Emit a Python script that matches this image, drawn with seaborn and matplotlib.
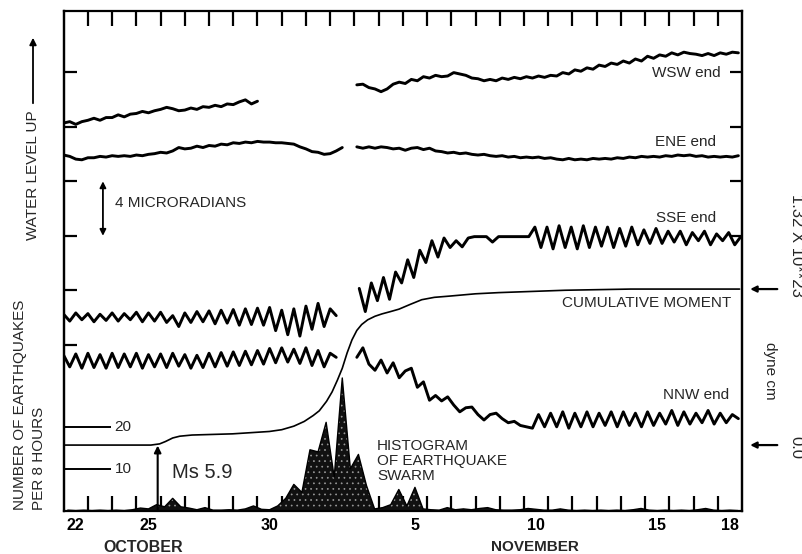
import numpy as np
import matplotlib
matplotlib.use('Agg')
import matplotlib.pyplot as plt
import seaborn as sns

# --- Дані ---
# час у добах від 00 год 22 жовтня, нахил у мікрорадіанах відносно початку запису
STEP = 0.25

WSW_A_START = 0.0
WSW_A = [0.0, 0.1, -0.1, 0.1, 0.2, 0.35, 0.2, 0.4, 0.4, 0.6, 0.45, 0.65, 0.7, 0.85,
         0.75, 0.9, 1.0, 1.15, 1.05, 0.9, 0.95, 1.1, 1.0, 1.2, 1.15, 1.3, 1.2, 1.4,
         1.35, 1.55, 1.7, 1.4, 1.6]
WSW_B_START = 12.1
WSW_B = [2.8, 2.85, 2.6, 2.5, 2.3, 2.5, 2.85, 3.0, 2.9, 3.2, 3.1, 3.4, 3.3, 3.5,
         3.4, 3.45, 3.7, 3.6, 3.5, 3.3, 3.25, 3.1, 3.2, 3.1, 3.3, 3.2, 3.35, 3.25,
         3.4, 3.3, 3.45, 3.35, 3.5, 3.45, 3.7, 3.6, 3.9, 3.8, 4.05, 3.95, 4.25, 4.15,
         4.4, 4.3, 4.55, 4.4, 4.7, 4.55, 4.9, 4.75, 5.0, 4.9, 5.15, 5.0, 5.2, 5.1,
         5.05, 4.95, 5.1, 4.95, 5.15, 5.05, 5.2, 5.15]

ENE_A_START = 0.0
ENE_A = [0.0, -0.1, -0.3, -0.35, -0.2, -0.2, -0.1, -0.15, -0.05, -0.1, -0.05, -0.1,
         0.0, -0.05, 0.05, 0.1, 0.2, 0.15, 0.3, 0.55, 0.45, 0.5, 0.65, 0.55, 0.7,
         0.65, 0.8, 0.75, 0.9, 0.85, 0.95, 0.9, 1.0, 0.95, 0.95, 0.9, 0.9, 0.85, 0.8,
         0.6, 0.45, 0.25, 0.2, 0.05, 0.1, 0.3, 0.55]
ENE_B_START = 12.1
ENE_B = [0.6, 0.5, 0.6, 0.5, 0.6, 0.55, 0.45, 0.5, 0.35, 0.5, 0.55, 0.4, 0.5, 0.3,
         0.25, 0.15, 0.2, 0.1, 0.15, 0.05, 0.0, 0.05, -0.05, -0.1, -0.05, -0.15, -0.1,
         -0.2, -0.15, -0.2, -0.15, -0.25, -0.2, -0.3, -0.35, -0.25, -0.35, -0.3, -0.35,
         -0.25, -0.3, -0.25, -0.3, -0.2, -0.25, -0.15, -0.2, -0.1, -0.15, -0.1, -0.15,
         -0.05, -0.1, 0.0, -0.05, 0.0, -0.1, -0.05, -0.15, -0.1, -0.15, -0.1, -0.15,
         -0.05]

SSE_A_START = 0.0
SSE_A = [0.2, -0.3, 0.3, -0.2, 0.25, -0.35, 0.2, -0.25, 0.3, -0.3, 0.25, -0.2, 0.35,
         -0.35, 0.3, -0.3, 0.35, -0.4, 0.1, -0.7, 0.3, -0.4, 0.4, -0.35, 0.45, -0.5,
         0.5, -0.45, 0.55, -0.6, 0.6, -0.55, 0.65, -0.6, 0.7, -1.0, 0.5, -1.3, 0.6,
         -1.4, 0.8, -0.9, 1.0, -0.7, 0.6, 0.1]
SSE_B_START = 12.2
SSE_B = [2.1, 0.4, 2.5, 1.2, 2.9, 1.3, 3.3, 2.5, 4.2, 2.9, 4.9, 4.0, 5.6, 4.4, 5.8,
         5.1, 5.6, 5.15, 5.8, 5.9, 5.9, 5.9, 5.5, 5.9, 5.9, 5.9, 5.9, 5.9, 5.9, 6.6,
         5.1, 6.6, 5.0, 6.7, 5.1, 6.6, 5.0, 6.7, 5.1, 6.6, 5.2, 6.6, 5.1, 6.5, 5.2,
         6.6, 5.3, 6.4, 5.4, 6.5, 5.4, 6.3, 5.5, 6.3, 5.3, 6.2, 5.6, 6.3, 5.3, 6.1,
         5.6, 6.2, 5.3, 5.9]

NNW_A_START = 0.0
NNW_A = [0.35, -0.5, 0.45, -0.6, 0.5, -0.55, 0.4, -0.6, 0.5, -0.55, 0.45, -0.5, 0.5,
         -0.6, 0.4, -0.5, 0.45, -0.55, 0.5, -0.45, 0.4, -0.6, 0.35, -0.55, 0.5, -0.5,
         0.55, -0.45, 0.6, -0.4, 0.65, -0.35, 0.7, -0.3, 0.85, -0.2, 0.9, -0.15, 0.8,
         -0.25, 0.9, -0.4, 0.7, -0.5, 0.5, 0.2]
NNW_B_START = 12.1
NNW_B = [0.2, 0.9, -0.3, -0.75, 0.0, -0.95, -0.2, -1.3, -0.8, -0.6, -2.0, -1.6, -2.95,
         -2.6, -3.0, -2.7, -3.3, -3.8, -3.5, -3.45, -4.0, -4.4, -4.0, -3.9, -4.3, -4.6,
         -4.5, -4.8, -4.9, -5.0, -4.0, -4.9, -3.9, -4.9, -3.8, -5.0, -3.9, -4.9, -3.8,
         -4.9, -3.9, -4.8, -3.8, -4.9, -3.8, -4.8, -3.9, -4.9, -3.8, -4.8, -3.9, -4.7,
         -3.7, -4.8, -3.8, -4.7, -3.9, -4.6, -3.7, -4.7, -3.9, -4.6, -4.0, -4.3]

# кількість землетрусів за 8 годин (3 інтервали на добу)
QUAKE_COUNTS = [0.2, 0.1, 0.2, 0.1, 0.2, 0.1, 0.2, 0.1, 0.3, 0.7, 0.5, 1.5, 1.0, 3.0,
                1.0, 0.7, 0.3, 0.8, 0.2, 0.2, 0.3, 0.2, 0.5, 1.2, 0.4, 0.3, 1.2, 3.0,
                6.3, 4.4, 14.5, 14.0, 21.0, 8.0, 31.5, 10.0, 13.4, 6.0, 0.5, 0.8, 1.5,
                5.1, 1.2, 5.6, 0.5, 0.3, 0.2, 0.8, 0.3, 0.5, 0.3, 0.6, 0.8, 0.3, 0.2,
                0.2, 0.3, 0.6, 0.4, 0.2, 0.2, 0.5, 0.2, 0.1, 0.2, 0.1, 0.2, 0.1, 0.2,
                0.1, 0.3, 0.6, 0.2, 0.1, 0.2, 0.1, 0.2, 0.1, 0.3, 0.6, 0.2, 0.1, 0.2, 0.1]
COUNT_TICKS = [10, 20]
MAIN_SHOCK_DAY = 3.88
MAIN_SHOCK_LABEL = "Ms 5.9"

# кумулятивний момент, 10**23 dyne cm
MOMENT_DAYS = [0.0, 3.6, 3.96, 4.2, 4.5, 4.79, 5.3, 6.97, 8.49, 9.0, 9.5, 9.93, 10.3,
               10.55, 10.85, 11.08, 11.3, 11.5, 11.7, 11.9, 12.1, 12.3, 12.55, 12.85,
               13.14, 13.5, 13.84, 14.3, 14.78, 15.3, 15.9, 17.0, 17.96, 20.7, 23.4, 27.9]
MOMENT_VALUES = [0.0, 0.0, 0.01, 0.03, 0.06, 0.075, 0.085, 0.095, 0.115, 0.13, 0.16,
                 0.2, 0.25, 0.29, 0.37, 0.45, 0.55, 0.65, 0.78, 0.89, 0.97, 1.02, 1.06,
                 1.09, 1.11, 1.13, 1.15, 1.19, 1.23, 1.25, 1.26, 1.28, 1.29, 1.31, 1.32,
                 1.32]
MOMENT_MAX = 1.32

DAY_LABELS = ["22", "25", "30", "5", "10", "15", "18"]
DAY_INDEX = [0, 3, 8, 14, 19, 24, 27]

# --- Розкладка (рівні записів на осі, мкрад) ---
OFFSETS = {"WSW": 28.48, "ENE": 26.13, "SSE": 14.24, "NNW": 11.08}
COUNT_SCALE = 0.31
MOMENT_BASE, MOMENT_SCALE = 4.84, 8.675
TILT_TICKS = 12.2 + 4 * np.arange(6)

sns.set_style('ticks')
plt.rcParams['font.family'] = ['Liberation Sans', 'DejaVu Sans']
plt.rcParams['hatch.linewidth'] = 0.5

fig = plt.figure(figsize=(8.02, 5.54), dpi=100)
ax = fig.add_axes([0.0794, 0.0776, 0.8458, 0.9025])


def draw_trace(start, values, offset):
    t = start + STEP * np.arange(len(values))
    sns.lineplot(x=t, y=np.asarray(values) + offset, ax=ax, color='black',
                 lw=2.1, estimator=None, sort=False,
                 solid_joinstyle='round', solid_capstyle='round')


draw_trace(WSW_A_START, WSW_A, OFFSETS["WSW"])
draw_trace(WSW_B_START, WSW_B, OFFSETS["WSW"])
draw_trace(ENE_A_START, ENE_A, OFFSETS["ENE"])
draw_trace(ENE_B_START, ENE_B, OFFSETS["ENE"])
draw_trace(SSE_A_START, SSE_A, OFFSETS["SSE"])
draw_trace(SSE_B_START, SSE_B, OFFSETS["SSE"])
draw_trace(NNW_A_START, NNW_A, OFFSETS["NNW"])
draw_trace(NNW_B_START, NNW_B, OFFSETS["NNW"])

# кумулятивний момент
moment_u = MOMENT_BASE + MOMENT_SCALE * np.asarray(MOMENT_VALUES)
sns.lineplot(x=MOMENT_DAYS, y=moment_u, ax=ax, color='black', lw=1.2,
             estimator=None, sort=False, solid_joinstyle='round')

# гістограма рою
bin_t = (np.arange(len(QUAKE_COUNTS)) + 0.5) / 3
hist_u = np.asarray(QUAKE_COUNTS) * COUNT_SCALE
ax.fill_between(bin_t, 0, hist_u, facecolor='#111111', edgecolor='#9a9a9a',
                hatch='...', linewidth=0)
sns.lineplot(x=bin_t, y=hist_u, ax=ax, color='black', lw=1.0, estimator=None, sort=False)

# осі
ax.set_xlim(0, 28)
ax.set_ylim(0, 36.7)
ax.set_xticks(np.arange(1, 28))
ax.set_xticklabels([])
ax.set_xticks(np.asarray(DAY_INDEX) + 0.5, minor=True)
ax.set_xticklabels(DAY_LABELS, minor=True, fontweight='bold', fontsize=11.5)
ax.tick_params(axis='x', which='major', direction='in', length=11, width=1.6,
               top=True, bottom=True, color='black')
ax.tick_params(axis='x', which='minor', length=0, pad=5, labelcolor='black')
ax.set_yticks(TILT_TICKS)
ax.set_yticklabels([])
ax.tick_params(axis='y', direction='in', length=9, width=1.6, left=True,
               right=False, color='black')
ax.set_xlabel('')
ax.set_ylabel('')
for sp in ax.spines.values():
    sp.set_color('black')
    sp.set_linewidth(1.6)

right = ax.secondary_yaxis('right')
right.set_yticks(TILT_TICKS[2:])
right.set_yticklabels([])
right.tick_params(direction='in', length=9, width=1.6, color='black')
right.spines['right'].set_color('black')
right.spines['right'].set_linewidth(1.6)

counts = ax.secondary_yaxis('left', functions=(lambda u: u / COUNT_SCALE,
                                               lambda c: c * COUNT_SCALE))
counts.set_yticks(COUNT_TICKS)
counts.set_yticklabels([])
counts.tick_params(direction='in', length=34, width=1.4, color='black')
counts.spines['left'].set_color('black')
counts.spines['left'].set_linewidth(1.6)
for c in COUNT_TICKS:
    ax.text(2.1, c * COUNT_SCALE, str(c), fontsize=11, va='center', ha='left')

# підписи записів
ax.text(27.13, 32.15, "WSW end", fontsize=11, ha='right', va='center')
ax.text(26.93, 27.08, "ENE end", fontsize=11, ha='right', va='center')
ax.text(26.93, 21.5, "SSE end", fontsize=11, ha='right', va='center')
ax.text(27.54, 15.27, "CUMULATIVE MOMENT", fontsize=11, ha='right', va='center')
ax.text(27.46, 8.51, "NNW end", fontsize=11, ha='right', va='center')
ax.text(12.93, 3.67, "HISTOGRAM\nOF EARTHQUAKE\nSWARM", fontsize=11, ha='left',
        va='center', linespacing=1.05)

# шкала 4 мкрад
ax.annotate('', xy=(1.62, TILT_TICKS[3]), xytext=(1.62, TILT_TICKS[2]),
            arrowprops=dict(arrowstyle='<|-|>', color='black', lw=1.3, mutation_scale=9,
                            shrinkA=0, shrinkB=0))
ax.text(2.11, 22.6, "4 MICRORADIANS", fontsize=11, ha='left', va='center')

# головний поштовх
ax.annotate('', xy=(MAIN_SHOCK_DAY, 15.5 * COUNT_SCALE), xytext=(MAIN_SHOCK_DAY, 0),
            arrowprops=dict(arrowstyle='-|>', color='black', lw=1.5, mutation_scale=10,
                            shrinkA=0, shrinkB=0))
ax.text(4.46, 2.79, MAIN_SHOCK_LABEL, fontsize=14.5, ha='left', va='center')

# шкала моменту справа
for m in (0.0, MOMENT_MAX):
    ax.annotate('', xy=(1.012, MOMENT_BASE + MOMENT_SCALE * m),
                xytext=(1.052, MOMENT_BASE + MOMENT_SCALE * m),
                xycoords=('axes fraction', 'data'),
                arrowprops=dict(arrowstyle='-|>', color='black', lw=1.6, mutation_scale=9,
                                shrinkA=0, shrinkB=0),
                annotation_clip=False)
fig.text(796 / 802, 1 - 245 / 554, f"{MOMENT_MAX:.2f} X 10**23", rotation=-90,
         fontsize=12, ha='center', va='center')
fig.text(770 / 802, 1 - 371 / 554, "dyne cm", rotation=-90, fontsize=11,
         ha='center', va='center')
fig.text(796 / 802, 1 - 447 / 554, "0.0", rotation=-90, fontsize=12,
         ha='center', va='center')

# ліві підписи
fig.text(33 / 802, 1 - 175 / 554, "WATER LEVEL UP", rotation=90, fontsize=11,
         ha='center', va='center')
fig.patches.append(matplotlib.patches.FancyArrowPatch(
    (33 / 802, 1 - 106 / 554), (33 / 802, 1 - 35 / 554), transform=fig.transFigure,
    arrowstyle='-|>', mutation_scale=10, lw=1.3, color='black'))
fig.text(20 / 802, 1 - 510 / 554, "NUMBER OF EARTHQUAKES", rotation=90, fontsize=11,
         ha='center', va='bottom')
fig.text(39 / 802, 1 - 510 / 554, "PER 8 HOURS", rotation=90, fontsize=11,
         ha='center', va='bottom')
fig.text(143 / 802, 1 - 547 / 554, "OCTOBER", fontsize=11.5, fontweight='bold',
         ha='center', va='center')
fig.text(535 / 802, 1 - 547 / 554, "NOVEMBER", fontsize=11, fontweight='bold',
         ha='center', va='center')

fig.savefig('out.png', dpi=100)
